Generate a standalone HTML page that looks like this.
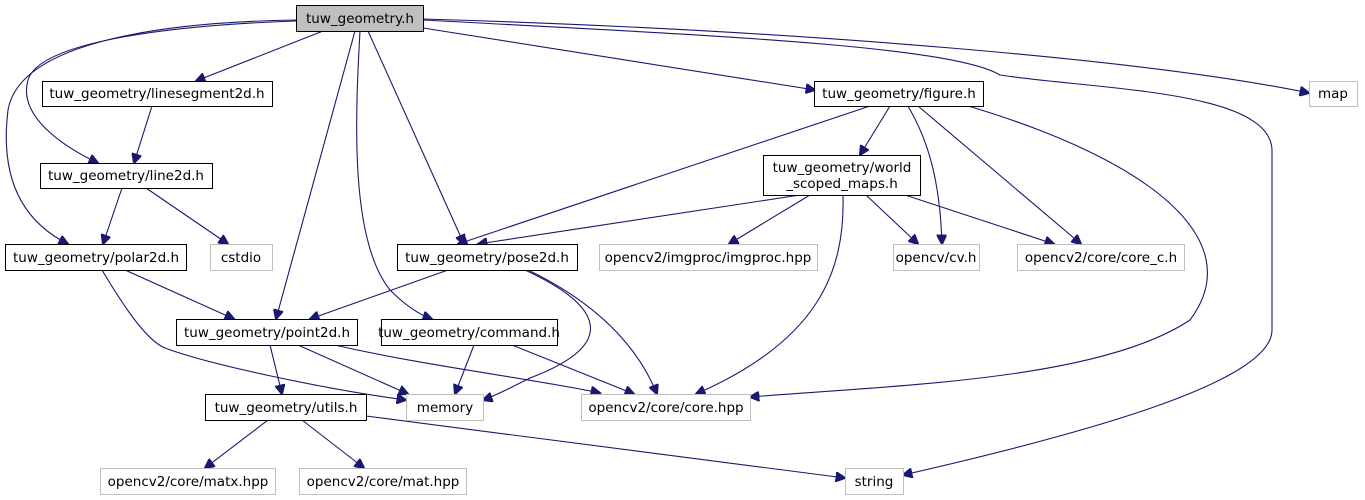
<!DOCTYPE html>
<html><head><meta charset="utf-8"><style>
html,body{margin:0;padding:0;background:#fff;}
svg{display:block}
text{font-family:"DejaVu Sans","Liberation Sans",sans-serif;font-size:13.5px;fill:#000;text-anchor:middle}
.n{fill:#fff;stroke:#000;stroke-width:1}
.g{fill:#fff;stroke:#bfbfbf;stroke-width:1}
path{fill:none;stroke:#191970;stroke-width:1.1}
</style></head><body>
<svg width="1365" height="500" viewBox="0 0 1365 500">
<defs><marker id="a" viewBox="0 0 10 10" refX="9" refY="5" markerWidth="11" markerHeight="10" markerUnits="userSpaceOnUse" orient="auto"><path d="M0,0 L10,5 L0,10 z" style="fill:#191970;stroke:#191970"/></marker></defs>
<g marker-end="url(#a)">
<path d="M323,31 L196,81"/>
<path d="M296,21 C180,25 40,40 28,80 C18,115 60,145 98,163"/>
<path d="M296,20 C170,22 20,40 8,110 C0,175 20,220 68,244"/>
<path d="M355,31 L276,319"/>
<path d="M360,31 C355,120 350,240 390,290 C405,305 420,315 432,319"/>
<path d="M368,31 L464,244"/>
<path d="M423,28 L815,90"/>
<path d="M423,20 C700,35 950,45 1000,75 C1100,90 1270,90 1272,150 L1272,330 C1272,380 1100,430 903,475"/>
<path d="M423,19 C800,30 1150,60 1309,93"/>
<path d="M152,106 L134,163"/>
<path d="M122,188 L103,244"/>
<path d="M146,188 L228,244"/>
<path d="M125,270 L234,319"/>
<path d="M102,270 C120,300 145,340 165,348 C210,365 330,390 406,400"/>
<path d="M448,270 L310,319"/>
<path d="M525,270 C590,300 630,340 530,378 C510,388 495,396 483,400"/>
<path d="M528,270 C590,300 635,340 657,394"/>
<path d="M270,345 L282,394"/>
<path d="M298,345 L408,394"/>
<path d="M335,345 C420,365 540,380 600,393"/>
<path d="M474,345 L455,394"/>
<path d="M512,345 L634,394"/>
<path d="M268,420 L205,468"/>
<path d="M302,420 L364,468"/>
<path d="M366,416 L845,478"/>
<path d="M890,106 L860,155"/>
<path d="M870,106 L458,244"/>
<path d="M908,106 C928,140 940,180 942,244"/>
<path d="M918,106 L1081,244"/>
<path d="M968,106 C1150,160 1250,240 1190,320 C1100,380 900,385 750,397"/>
<path d="M800,195 L478,244"/>
<path d="M810,195 L729,244"/>
<path d="M843,195 C845,270 820,340 696,394"/>
<path d="M866,195 L918,244"/>
<path d="M905,195 L1054,244"/>
</g>
<rect x="296.5" y="5.5" width="127" height="26" fill="#bfbfbf" stroke="#000"/><text x="360" y="23">tuw_geometry.h</text>
<rect class="n" x="42.5" y="81.5" width="230" height="25"/><text x="157" y="98">tuw_geometry/linesegment2d.h</text>
<rect class="n" x="40.5" y="163.5" width="172" height="25"/><text x="126" y="180">tuw_geometry/line2d.h</text>
<rect class="n" x="5.5" y="244.5" width="181" height="26"/><text x="96" y="262">tuw_geometry/polar2d.h</text>
<rect class="g" x="210.5" y="244.5" width="62" height="26"/><text x="241" y="262">cstdio</text>
<rect class="n" x="397.5" y="244.5" width="180" height="26"/><text x="487" y="262">tuw_geometry/pose2d.h</text>
<rect class="n" x="176.5" y="319.5" width="181" height="26"/><text x="267" y="337">tuw_geometry/point2d.h</text>
<rect class="n" x="381.5" y="319.5" width="176" height="26"/><text x="469" y="337">tuw_geometry/command.h</text>
<rect class="n" x="205.5" y="394.5" width="161" height="26"/><text x="286" y="412">tuw_geometry/utils.h</text>
<rect class="g" x="406.5" y="394.5" width="77" height="26"/><text x="445" y="412">memory</text>
<rect class="g" x="581.5" y="394.5" width="169" height="26"/><text x="666" y="412">opencv2/core/core.hpp</text>
<rect class="g" x="100.5" y="468.5" width="175" height="26"/><text x="188" y="486">opencv2/core/matx.hpp</text>
<rect class="g" x="299.5" y="468.5" width="167" height="26"/><text x="383" y="486">opencv2/core/mat.hpp</text>
<rect class="g" x="845.5" y="468.5" width="58" height="26"/><text x="874" y="486">string</text>
<rect class="n" x="814.5" y="81.5" width="169" height="25"/><text x="899" y="98">tuw_geometry/figure.h</text>
<rect class="n" x="763.5" y="155.5" width="157" height="40"/><text x="842" y="172">tuw_geometry/world</text><text x="842" y="188">_scoped_maps.h</text>
<rect class="g" x="599.5" y="244.5" width="218" height="26"/><text x="708" y="262">opencv2/imgproc/imgproc.hpp</text>
<rect class="g" x="893.5" y="244.5" width="86" height="26"/><text x="936" y="262">opencv/cv.h</text>
<rect class="g" x="1017.5" y="244.5" width="167" height="26"/><text x="1101" y="262">opencv2/core/core_c.h</text>
<rect class="g" x="1309.5" y="81.5" width="48" height="25"/><text x="1333" y="98">map</text>
</svg>
</body></html>
